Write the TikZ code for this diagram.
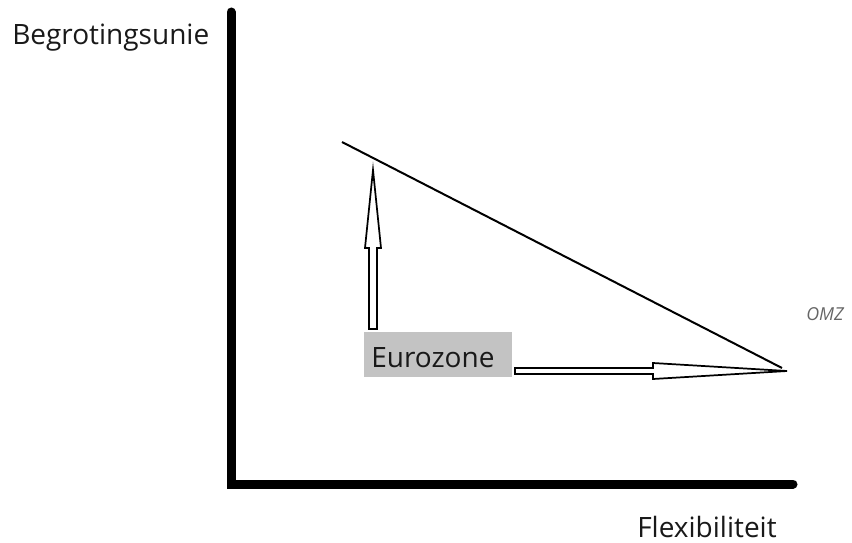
\documentclass[tikz,border=0pt]{standalone}
\usepackage{fontspec}
\setmainfont{Open Sans}
\begin{document}
\begin{tikzpicture}[x=0.75pt,y=-0.75pt,
  axis/.style={line width=6.75pt,line cap=round},
  blockarrow/.style={draw=black,fill=white,line width=1.3pt,line join=miter},
  lbl/.style={inner sep=0pt,font=\fontsize{21}{25}\selectfont,text=black!90},
  omz/.style={inner sep=0pt,font=\fontsize{13.4}{16}\selectfont\itshape,text=black!60}]
\useasboundingbox (0,0) rectangle (852,542);
% axes
\coordinate (top) at (231,12);
\coordinate (origin) at (231,484);
\coordinate (right) at (793,484);
\draw[axis] (top) -- (origin) -- (right);
% labels
\node[lbl,anchor=base west] (ylab) at (12,45) {Begrotingsunie};
\node[lbl,anchor=base west] (xlab) at (637,537) {Flexibiliteit};
\node[omz,anchor=base west] (omz) at (806,320) {OMZ};
% diagonal line
\coordinate (dstart) at (342,142);
\coordinate (dend) at (782,368);
\draw[line width=1.5pt] (dstart) -- (dend);
% Eurozone box
\fill[fill={rgb,255:red,195;green,195;blue,195}] (364,332) rectangle (512,377);
\node[lbl,anchor=base west] (euro) at (371,367) {Eurozone};
% up block arrow
\draw[blockarrow] (369,329) -- (369,248) -- (365,248) -- (373,170) -- (381,248) -- (377,248) -- (377,329) -- cycle;
% right block arrow
\draw[blockarrow] (515,368) -- (653,368) -- (653,363) -- (787,371) -- (653,379) -- (653,374) -- (515,374) -- cycle;
\end{tikzpicture}
\end{document}
